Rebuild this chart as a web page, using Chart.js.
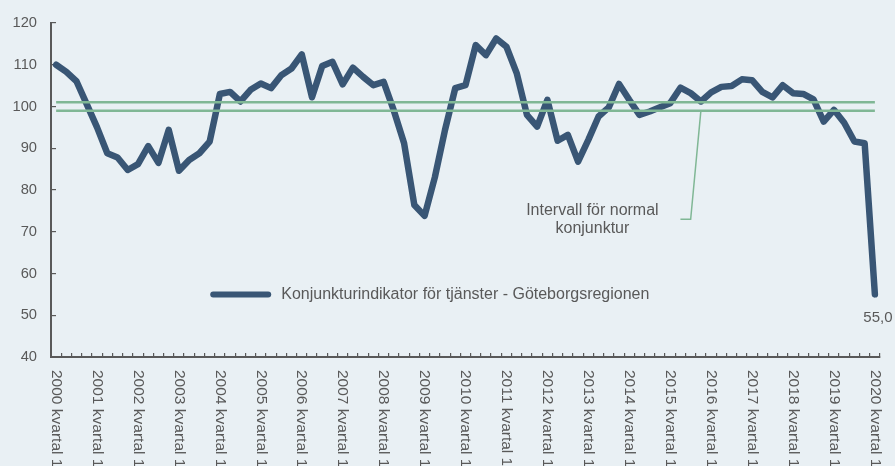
<!DOCTYPE html>
<html>
<head>
<meta charset="utf-8">
<script src="https://cdn.jsdelivr.net/npm/chart.js@4"></script>
<style>
  html, body { margin: 0; padding: 0; background: #E9F0F4; }
  #wrap { width: 895px; height: 466px; }
</style>
</head>
<body>
<div id="wrap"><canvas id="c" width="895" height="466"></canvas></div>
<script>
// ---- data ----
const years = [2000, 2001, 2002, 2003, 2004, 2005, 2006, 2007, 2008, 2009, 2010,
               2011, 2012, 2013, 2014, 2015, 2016, 2017, 2018, 2019, 2020];
const quarterNames = ['kvartal 1', 'kvartal 2', 'kvartal 3', 'kvartal 4'];
const categories = [];
years.forEach(y => quarterNames.forEach(q => categories.push(y + ' ' + q)));
categories.length = 81; // 2000 kvartal 1 .. 2020 kvartal 1

const indicatorValues = [
  110.0, 108.3, 106.0, 100.5,  95.0,  88.8,  87.8,  84.8,  // 2000-2001
   86.2,  90.5,  86.5,  94.4,  84.6,  87.2,  88.8,  91.6,  // 2002-2003
  103.0, 103.5, 101.2, 104.0, 105.5, 104.4, 107.5, 109.1,  // 2004-2005
  112.5, 102.2, 109.7, 110.7, 105.3, 109.3, 107.1, 105.1,  // 2006-2007
  105.9,  99.0,  91.2,  76.4,  73.8,  83.0,  94.4, 104.4,  // 2008-2009
  105.1, 114.7, 112.3, 116.3, 114.3, 108.0,  98.0,  95.2,  // 2010-2011
  101.6,  91.8,  93.2,  86.8,  92.0,  97.6,  99.8, 105.4,  // 2012-2013
  101.6,  98.0,  98.8,  99.8, 100.8, 104.5, 103.2, 101.2,  // 2014-2015
  103.4, 104.7, 104.9, 106.5, 106.3, 103.5, 102.2, 105.1,  // 2016-2017
  103.2, 103.0, 101.7,  96.4,  99.2,  96.1,  91.6,  91.2,  // 2018-2019
   55.0                                                     // 2020
];
const normalUpper = categories.map(() => 101);
const normalLower = categories.map(() => 99);

const seriesLabel = 'Konjunkturindikator för tjänster - Göteborgsregionen';
const noteLines = ['Intervall för normal', 'konjunktur'];
const lastValueLabel = '55,0';
const yTicks = { min: 40, max: 120, step: 10 };

// annotation anchor in data space (category index, value)
const noteAnchor = { from: [63, 99], corner: [62, 73], end: [61, 73], text: [52.4, 75, 70.7] };
// legend anchor in data space (category index, value)
const legendAnchor = [15.35, 55.0];

// ---- styles ----
const BG = '#E9F0F4';
const DARK = '#395675';
const GREEN = '#80B795';
const AXIS = '#595959';
const TXT = '#595959';
const FONT = '"Liberation Sans", Arial, sans-serif';

const bgPlugin = {
  id: 'bg',
  beforeDraw(chart) {
    const ctx = chart.ctx;
    ctx.save();
    ctx.fillStyle = BG;
    ctx.fillRect(0, 0, chart.width, chart.height);
    ctx.restore();
  }
};

const extrasPlugin = {
  id: 'extras',
  afterDraw(chart) {
    const ctx = chart.ctx;
    const xs = chart.scales.x, ys = chart.scales.y;
    ctx.save();
    // x labels, rotated clockwise
    ctx.fillStyle = TXT;
    ctx.font = '15.5px ' + FONT;
    ctx.textAlign = 'left';
    ctx.textBaseline = 'middle';
    categories.forEach((c, i) => {
      if (!c.endsWith('kvartal 1')) return;
      const x = xs.getPixelForValue(i);
      ctx.save();
      ctx.translate(x, xs.top + 13);
      ctx.rotate(Math.PI / 2);
      ctx.fillText(c, 0, 0);
      ctx.restore();
    });

    // last value label
    const meta = chart.getDatasetMeta(0);
    const pt = meta.data[meta.data.length - 1];
    ctx.font = '15px ' + FONT;
    ctx.textAlign = 'center';
    ctx.textBaseline = 'middle';
    ctx.fillText(lastValueLabel, pt.x + 3, pt.y + 23);

    // annotation leader line
    ctx.strokeStyle = GREEN;
    ctx.lineWidth = 1.5;
    ctx.beginPath();
    ctx.moveTo(xs.getPixelForValue(noteAnchor.from[0]), ys.getPixelForValue(noteAnchor.from[1]));
    ctx.lineTo(xs.getPixelForValue(noteAnchor.corner[0]), ys.getPixelForValue(noteAnchor.corner[1]));
    ctx.lineTo(xs.getPixelForValue(noteAnchor.end[0]), ys.getPixelForValue(noteAnchor.end[1]));
    ctx.stroke();

    // annotation text
    ctx.font = '16px ' + FONT;
    ctx.fillStyle = TXT;
    const tx = xs.getPixelForValue(noteAnchor.text[0]);
    ctx.fillText(noteLines[0], tx, ys.getPixelForValue(noteAnchor.text[1]));
    ctx.fillText(noteLines[1], tx, ys.getPixelForValue(noteAnchor.text[2]));

    // legend (inside plot)
    const lx = xs.getPixelForValue(legendAnchor[0]), ly = ys.getPixelForValue(legendAnchor[1]);
    ctx.strokeStyle = DARK;
    ctx.lineWidth = 6;
    ctx.lineCap = 'round';
    ctx.beginPath();
    ctx.moveTo(lx, ly);
    ctx.lineTo(lx + 55, ly);
    ctx.stroke();
    ctx.textAlign = 'left';
    ctx.fillStyle = TXT;
    ctx.fillText(seriesLabel, lx + 68, ly);
    ctx.restore();
  }
};

new Chart(document.getElementById('c'), {
  type: 'line',
  data: {
    labels: categories,
    datasets: [
      {
        label: seriesLabel,
        data: indicatorValues,
        borderColor: DARK,
        borderWidth: 6.5,
        borderJoinStyle: 'round',
        borderCapStyle: 'round',
        pointRadius: 0,
        tension: 0,
        order: 2
      },
      {
        label: 'Övre gräns',
        data: normalUpper,
        borderColor: GREEN,
        borderWidth: 2.5,
        pointRadius: 0,
        order: 1
      },
      {
        label: 'Undre gräns',
        data: normalLower,
        borderColor: GREEN,
        borderWidth: 2.5,
        pointRadius: 0,
        order: 1
      }
    ]
  },
  options: {
    responsive: false,
    devicePixelRatio: 1,
    animation: false,
    events: [],
    layout: { padding: { top: 23, right: 15, left: 0, bottom: 0 } },
    plugins: {
      legend: { display: false },
      tooltip: { enabled: false }
    },
    scales: {
      x: {
        type: 'category',
        offset: true,
        grid: {
          offset: true,
          drawOnChartArea: false,
          drawTicks: true,
          tickLength: -4,
          color: AXIS,
          lineWidth: 1.2
        },
        border: { display: true, color: AXIS, width: 2 },
        ticks: { display: false, autoSkip: false },
        afterFit(scale) { scale.height = 109; scale.paddingLeft = 0; scale.paddingRight = 0; }
      },
      y: {
        min: yTicks.min,
        max: yTicks.max,
        grid: {
          drawOnChartArea: false,
          drawTicks: true,
          tickLength: -5,
          color: AXIS,
          lineWidth: 1.2
        },
        border: { display: true, color: AXIS, width: 2 },
        ticks: {
          stepSize: yTicks.step,
          color: TXT,
          padding: 19,
          font: { family: FONT, size: 14.7 }
        },
        afterFit(scale) { scale.width = 51; scale.paddingTop = 0; scale.paddingBottom = 0; }
      }
    }
  },
  plugins: [bgPlugin, extrasPlugin]
});
</script>
</body>
</html>
